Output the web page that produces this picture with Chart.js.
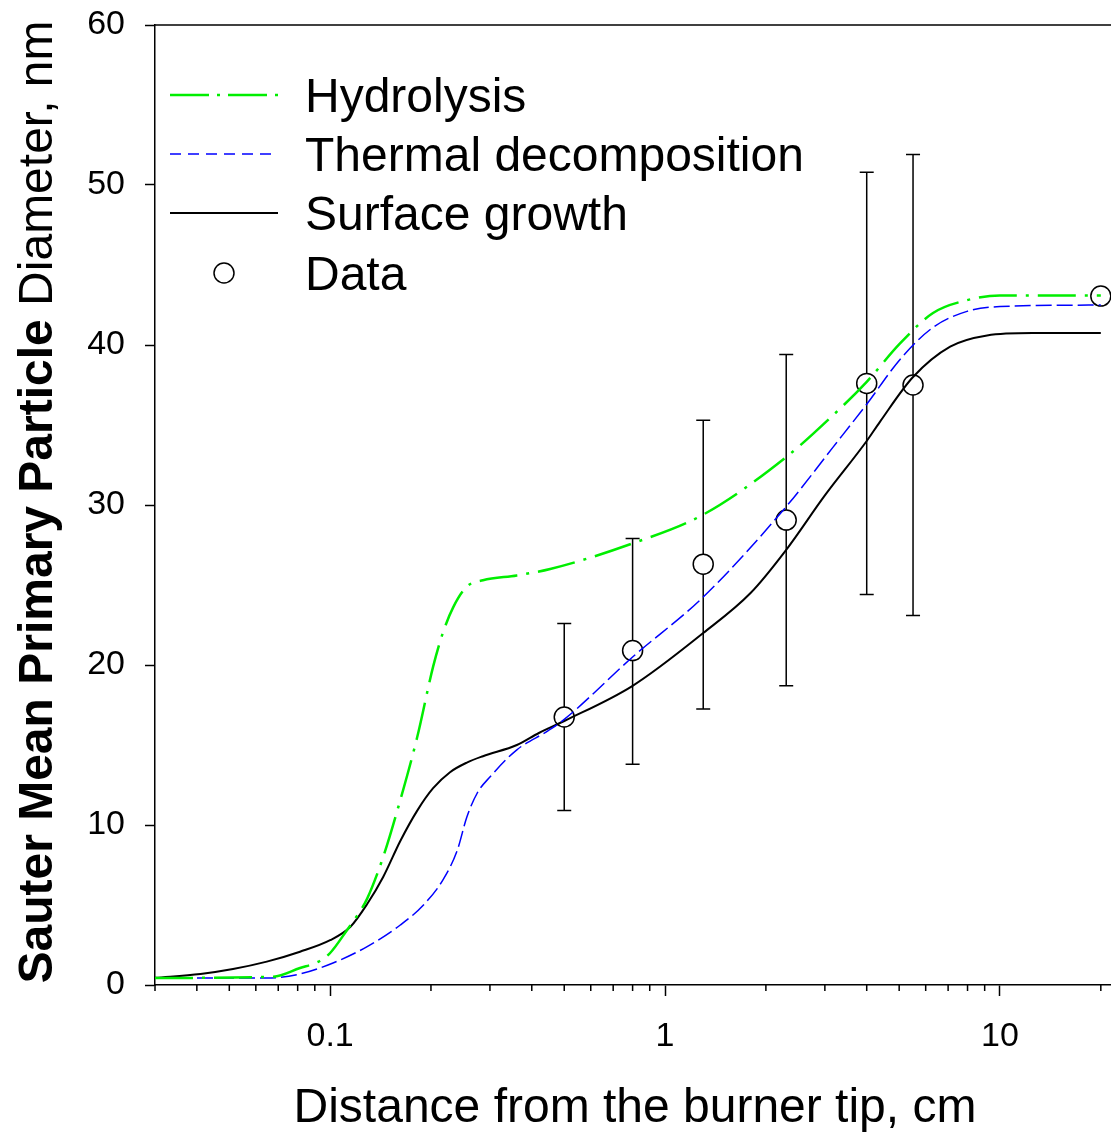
<!DOCTYPE html>
<html>
<head>
<meta charset="utf-8">
<script src="https://cdn.jsdelivr.net/npm/chart.js@4.4.1/dist/chart.umd.min.js"></script>
<style>
  html, body { margin: 0; padding: 0; background: #fff; overflow: hidden; }
  #wrap { width: 1111px; height: 1132px; }
  canvas { display: block; }
</style>
</head>
<body>
<div id="wrap"><canvas id="myChart" width="1111" height="1132"></canvas></div>
<script>
// model curves
let hydroX = [0.03, 0.0677, 0.0813, 0.0924, 0.1, 0.1124, 0.121, 0.129, 0.144, 0.162, 0.182, 0.203, 0.217, 0.233, 0.256, 0.286, 0.361, 0.454, 0.8, 1.3, 2.3, 3.17, 4.0, 5.03, 6.31, 7.97, 10, 20]
let hydroY = [0.44, 0.52, 1.06, 1.46, 2.0, 3.44, 4.4, 5.4, 8.0, 11.56, 15.5, 19.9, 22.0, 23.6, 24.9, 25.3, 25.6, 26.0, 27.6, 29.4, 33.0, 35.6, 37.7, 40.1, 42.0, 42.8, 43.1, 43.1]

let thermalX = [0.03, 0.0647, 0.0813, 0.102, 0.129, 0.162, 0.19, 0.217, 0.2395, 0.256, 0.275, 0.3, 0.361, 0.448, 0.5, 0.8, 1.3, 2.3, 3.17, 4.0, 5.03, 6.31, 7.97, 10, 20]
let thermalY = [0.44, 0.44, 0.69, 1.375, 2.4, 3.75, 5.0, 6.56, 8.4, 10.5, 12.0, 13.0, 14.7, 15.9, 16.6, 20.5, 24.25, 29.9, 33.6, 36.3, 39.1, 41.1, 42.1, 42.4, 42.5]

let surfaceX = [0.03, 0.041, 0.0513, 0.0647, 0.0813, 0.1, 0.115, 0.129, 0.144, 0.162, 0.182, 0.203, 0.228, 0.256, 0.286, 0.361, 0.42, 0.5, 0.8, 1.3, 1.8, 2.3, 3.0, 4.0, 4.38, 5.5, 7.1, 9.15, 12.5, 20]
let surfaceY = [0.45, 0.69, 1.0, 1.46, 2.08, 2.8, 3.64, 5.06, 6.75, 9.0, 10.9, 12.3, 13.3, 13.9, 14.3, 15.0, 15.75, 16.5, 18.7, 22.0, 24.5, 27.2, 30.6, 34.0, 35.2, 38.0, 39.9, 40.6, 40.75, 40.75]

// measured data with error bars
let dataX = [0.5, 0.8, 1.3, 2.3, 4.0, 5.5, 20]
let dataY = [16.75, 20.9, 26.3, 29.06, 37.6, 37.5, 43.06]
let errLow = [10.9, 13.8, 17.25, 18.7, 24.4, 23.1, null]
let errHigh = [22.6, 27.9, 35.3, 39.4, 50.8, 51.9, null]

let majorTicks = [0.1, 1, 10]
let minorTicks = [0.03, 0.04, 0.05, 0.06, 0.07, 0.08, 0.09, 0.2, 0.3, 0.4, 0.5, 0.6, 0.7, 0.8, 0.9, 2, 3, 4, 5, 6, 7, 8, 9, 20]
let yTicks = [0, 10, 20, 30, 40, 50, 60]

const FONT = '"Liberation Sans", Arial, sans-serif'
Chart.defaults.font.family = FONT

const toPoints = (xs, ys) => xs.map((v, i) => ({ x: v, y: ys[i] }))

const noPad = s => {
    s.paddingTop = 0
    s.paddingBottom = 0
    s.paddingLeft = 0
    s.paddingRight = 0
}

const decorations = {
    id: 'decorations',
    beforeDatasetsDraw(chart) {
        const { ctx, scales: { x, y } } = chart
        ctx.save()
        ctx.strokeStyle = '#000'
        ctx.lineWidth = 1.5
        dataX.forEach((v, i) => {
            if (errLow[i] == null) return
            const px = x.getPixelForValue(v)
            const top = y.getPixelForValue(errHigh[i])
            const bot = y.getPixelForValue(errLow[i])
            ctx.beginPath()
            ctx.moveTo(px, top); ctx.lineTo(px, bot)
            ctx.moveTo(px - 7, top); ctx.lineTo(px + 7, top)
            ctx.moveTo(px - 7, bot); ctx.lineTo(px + 7, bot)
            ctx.stroke()
        })
        ctx.restore()
    },
    afterDraw(chart) {
        const { ctx, chartArea, scales: { x } } = chart
        ctx.save()
        ctx.strokeStyle = '#000'
        ctx.lineWidth = 1.5

        // top frame
        ctx.beginPath()
        ctx.moveTo(chartArea.left, chartArea.top)
        ctx.lineTo(chartArea.right, chartArea.top)
        ctx.stroke()

        // minor x ticks
        ctx.beginPath()
        minorTicks.forEach(v => {
            const px = x.getPixelForValue(v)
            ctx.moveTo(px, chartArea.bottom)
            ctx.lineTo(px, chartArea.bottom + 6)
        })
        ctx.stroke()

        ctx.fillStyle = '#000'
        ctx.textBaseline = 'alphabetic'

        // x title
        ctx.font = '48px ' + FONT
        ctx.textAlign = 'center'
        ctx.fillText('Distance from the burner tip, cm', 635, 1122)

        // y title, bold + normal
        ctx.save()
        ctx.translate(52, 502)
        ctx.rotate(-Math.PI / 2)
        ctx.textAlign = 'left'
        const boldPart = 'Sauter Mean Primary Particle '
        const normPart = 'Diameter, nm'
        ctx.font = 'bold 48px ' + FONT
        const wb = ctx.measureText(boldPart).width
        ctx.font = '48px ' + FONT
        const wn = ctx.measureText(normPart).width
        const start = -(wb + wn) / 2
        ctx.font = 'bold 48px ' + FONT
        ctx.fillText(boldPart, start, 0)
        ctx.font = '48px ' + FONT
        ctx.fillText(normPart, start + wb, 0)
        ctx.restore()

        // legend
        const items = [
            { text: 'Hydrolysis', y: 95, color: '#00ee00', width: 2.5, dash: [39, 8, 3, 8] },
            { text: 'Thermal decomposition', y: 154, color: '#0000ff', width: 1.5, dash: [11, 7] },
            { text: 'Surface growth', y: 213, color: '#000', width: 2, dash: [] },
            { text: 'Data', y: 273, marker: true }
        ]
        items.forEach(it => {
            if (it.marker) {
                ctx.setLineDash([])
                ctx.lineWidth = 1.5
                ctx.strokeStyle = '#000'
                ctx.fillStyle = '#fff'
                ctx.beginPath()
                ctx.arc(224, it.y, 10, 0, Math.PI * 2)
                ctx.fill()
                ctx.stroke()
            } else {
                ctx.setLineDash(it.dash)
                ctx.lineWidth = it.width
                ctx.strokeStyle = it.color
                ctx.beginPath()
                ctx.moveTo(170, it.y)
                ctx.lineTo(278, it.y)
                ctx.stroke()
            }
            ctx.setLineDash([])
            ctx.fillStyle = '#000'
            ctx.font = '48px ' + FONT
            ctx.textAlign = 'left'
            ctx.fillText(it.text, 305, it.y + 17)
        })
        ctx.restore()
    }
}

let ctx = document.getElementById('myChart')
let myChart = new Chart(ctx, {
    type: 'line',
    data: {
        datasets: [
            {
                label: 'Hydrolysis',
                data: toPoints(hydroX, hydroY),
                borderColor: '#00ee00',
                borderWidth: 2.5,
                borderDash: [38, 9, 3, 9],
                pointRadius: 0,
                cubicInterpolationMode: 'monotone',
                order: 1
            },
            {
                label: 'Thermal decomposition',
                data: toPoints(thermalX, thermalY),
                borderColor: '#0000ff',
                borderWidth: 1.5,
                borderDash: [16, 5],
                pointRadius: 0,
                cubicInterpolationMode: 'monotone',
                order: 2
            },
            {
                label: 'Surface growth',
                data: toPoints(surfaceX, surfaceY),
                borderColor: '#000',
                borderWidth: 2,
                pointRadius: 0,
                cubicInterpolationMode: 'monotone',
                order: 3
            },
            {
                label: 'Data',
                data: toPoints(dataX, dataY),
                showLine: false,
                pointRadius: 10,
                pointBorderWidth: 1.5,
                pointBackgroundColor: '#fff',
                pointBorderColor: '#000',
                clip: false,
                order: 10
            }
        ]
    },
    options: {
        responsive: false,
        animation: false,
        layout: { autoPadding: false, padding: { top: 25, left: 0, right: 0, bottom: 0 } },
        plugins: { legend: { display: false }, tooltip: { enabled: false } },
        scales: {
            x: {
                type: 'logarithmic',
                min: 0.03,
                max: 21.45,
                afterFit(s) { s.height = 147; noPad(s) },
                afterBuildTicks(s) { s.ticks = majorTicks.map(v => ({ value: v })) },
                ticks: {
                    font: { size: 34 },
                    color: '#000',
                    padding: 20,
                    maxRotation: 0,
                    autoSkip: false,
                    callback: v => String(v)
                },
                grid: { drawOnChartArea: false, tickLength: 11, tickColor: '#000', tickWidth: 1.5 },
                border: { color: '#000', width: 1.5 }
            },
            y: {
                min: 0,
                max: 60,
                afterFit(s) { s.width = 155; noPad(s) },
                afterBuildTicks(s) { s.ticks = yTicks.map(v => ({ value: v })) },
                ticks: { font: { size: 34 }, color: '#000', padding: 20 },
                grid: { drawOnChartArea: false, tickLength: 10, tickColor: '#000', tickWidth: 1.5 },
                border: { color: '#000', width: 1.5 }
            }
        }
    },
    plugins: [decorations]
})
</script>
</body>
</html>
